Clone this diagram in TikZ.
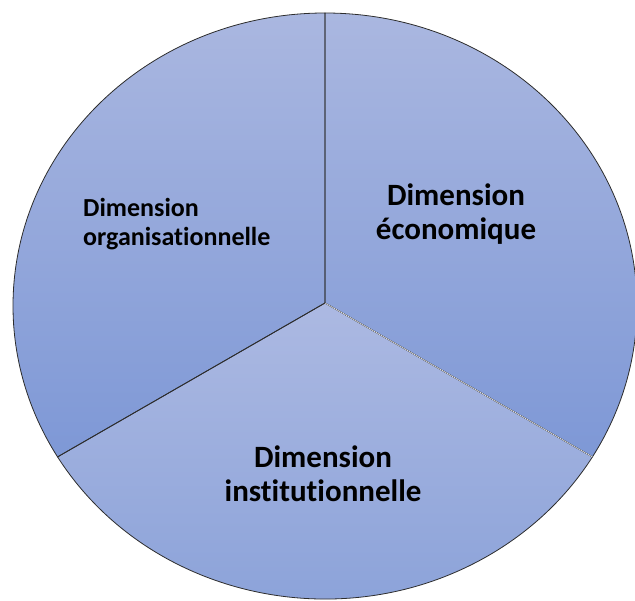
\documentclass[tikz,border=0pt]{standalone}
\usepackage{fontspec}
\setmainfont[Ligatures={NoCommon,NoContextual}]{Carlito}
\usetikzlibrary{calc}
\begin{document}
\begin{tikzpicture}[x=1pt,y=1pt,
  sectorline/.style={draw=black!65!gray, line width=0.8pt, line join=round},
  smalllabel/.style={font=\fontsize{26}{29}\selectfont\bfseries, align=left, inner sep=0pt, text=black},
  biglabel/.style={font=\fontsize{31}{34}\selectfont\bfseries, align=center, inner sep=0pt, text=black}]
\definecolor{pielight}{RGB}{170,183,224}
\definecolor{piedark}{RGB}{126,152,214}
\definecolor{pielightb}{RGB}{172,185,226}
\definecolor{piedarkb}{RGB}{136,160,216}
\useasboundingbox (0,0) rectangle (635,-601);
\coordinate (c) at (325,-303);
\coordinate (e) at (325,-306);
% left sector
\shade[top color=pielight, bottom color=piedark]
  (c) -- ($(e)+(90:312 and 293)$) arc[start angle=90, end angle=211, x radius=312, y radius=293] -- cycle;
% right sector
\shade[top color=pielight, bottom color=piedark]
  (c) -- ($(e)+(90:312 and 293)$) arc[start angle=90, end angle=-31, x radius=312, y radius=293] -- cycle;
% bottom sector
\shade[top color=pielightb, bottom color=piedarkb]
  (c) -- ($(e)+(211:312 and 293)$) arc[start angle=211, end angle=329, x radius=312, y radius=293] -- cycle;
% outlines
\draw[sectorline] (c) -- ($(e)+(90:312 and 293)$) arc[start angle=90, end angle=211, x radius=312, y radius=293] -- cycle;
\draw[sectorline] (c) -- ($(e)+(90:312 and 293)$) arc[start angle=90, end angle=-31, x radius=312, y radius=293] -- cycle;
\draw[sectorline] (c) -- ($(e)+(211:312 and 293)$) arc[start angle=211, end angle=329, x radius=312, y radius=293] -- cycle;
\draw[white, line width=0.5pt] (c) -- ($(e)+(-31:312 and 293)$);
% labels
\node[smalllabel, anchor=base west] (org) at (83,-246) {Dimension\\organisationnelle};
\node[biglabel, anchor=base] (eco) at (456,-240) {Dimension\\économique};
\node[biglabel, anchor=base] (inst) at (323,-502) {Dimension\\institutionnelle};
\end{tikzpicture}
\end{document}
